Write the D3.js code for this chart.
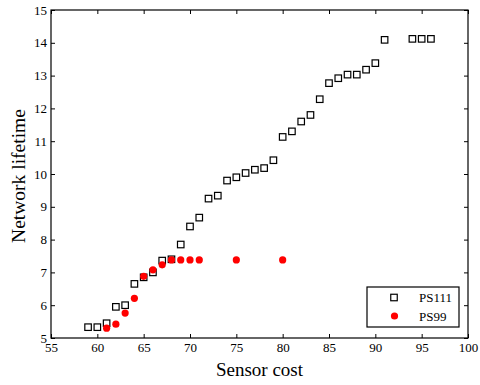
<!DOCTYPE html>
<html>
<head>
<meta charset="utf-8">
<script src="https://cdn.jsdelivr.net/npm/d3@7"></script>
<style>
  html, body { margin: 0; padding: 0; background: #fff; overflow: hidden; }
  svg { display: block; }
  text { font-family: "Liberation Serif", "Times New Roman", serif; }
</style>
</head>
<body>
<div id="chart"></div>
<script>
// PS111 series
const ps111Cost = [59, 60, 61, 62, 63, 64, 65, 66, 67, 68, 69, 70, 71, 72, 73, 74, 75, 76, 77, 78,
                   79, 80, 81, 82, 83, 84, 85, 86, 87, 88, 89, 90, 91, 94, 95, 96];
const ps111Life = [5.33, 5.33, 5.45, 5.95, 6.0, 6.65, 6.85, 7.0, 7.36, 7.4, 7.85, 8.4, 8.67, 9.25, 9.34, 9.8, 9.9, 10.03, 10.13, 10.18,
                   10.42, 11.13, 11.3, 11.6, 11.8, 12.28, 12.77, 12.92, 13.03, 13.03, 13.18, 13.38, 14.09, 14.12, 14.12, 14.12];
// PS99 series
const ps99Cost = [61, 62, 63, 64, 65, 66, 67, 68, 69, 70, 71, 75, 80];
const ps99Life = [5.3, 5.42, 5.76, 6.21, 6.88, 7.08, 7.23, 7.38, 7.38, 7.38, 7.38, 7.38, 7.38];

const xTicks = [55, 60, 65, 70, 75, 80, 85, 90, 95, 100];
const yTicks = [5, 6, 7, 8, 9, 10, 11, 12, 13, 14, 15];

const width = 480, height = 385;
const margin = { top: 10, right: 12, bottom: 47, left: 51 };
const innerWidth = width - margin.left - margin.right;
const innerHeight = height - margin.top - margin.bottom;

const svg = d3.select("#chart").append("svg")
    .attr("width", width)
    .attr("height", height);

const g = svg.append("g")
    .attr("transform", `translate(${margin.left}, ${margin.top})`);

const x = d3.scaleLinear().domain([55, 100]).range([0, innerWidth]);
const y = d3.scaleLinear().domain([5, 15]).range([innerHeight, 0]);

// axes with inward ticks
function styleAxis(sel) {
    sel.select(".domain").remove();
    sel.selectAll("line").attr("stroke", "#000").attr("stroke-width", 1);
    sel.selectAll("text").attr("fill", "#000").style("font-size", "13px");
}

g.append("g")
    .attr("transform", `translate(0, ${innerHeight})`)
    .call(d3.axisBottom(x).tickValues(xTicks).tickSizeInner(-4).tickSizeOuter(0).tickPadding(5))
    .call(styleAxis);

g.append("g")
    .call(d3.axisLeft(y).tickValues(yTicks).tickSizeInner(-4).tickSizeOuter(0).tickPadding(4))
    .call(styleAxis);

// mirrored ticks on top and right, no labels
const topAxis = g.append("g")
    .call(d3.axisTop(x).tickValues(xTicks).tickSizeInner(-4).tickSizeOuter(0))
    .call(styleAxis);
topAxis.selectAll("text").remove();

const rightAxis = g.append("g")
    .attr("transform", `translate(${innerWidth}, 0)`)
    .call(d3.axisRight(y).tickValues(yTicks).tickSizeInner(-4).tickSizeOuter(0))
    .call(styleAxis);
rightAxis.selectAll("text").remove();

// frame
g.append("rect")
    .attr("width", innerWidth)
    .attr("height", innerHeight)
    .attr("fill", "none")
    .attr("stroke", "#000")
    .attr("stroke-width", 1.2);

// axis labels
svg.append("text")
    .attr("x", margin.left + innerWidth / 2)
    .attr("y", 376)
    .attr("text-anchor", "middle")
    .style("font-size", "19px")
    .text("Sensor cost");

svg.append("text")
    .attr("transform", `translate(25, ${margin.top + innerHeight / 2 + 2}) rotate(-90)`)
    .attr("text-anchor", "middle")
    .style("font-size", "19.5px")
    .text("Network lifetime");

// PS111 squares
const sq = 6.5;
g.selectAll(".ps111")
    .data(ps111Cost.map((c, i) => [c, ps111Life[i]]))
    .enter().append("rect")
    .attr("class", "ps111")
    .attr("x", d => x(d[0]) - sq / 2)
    .attr("y", d => y(d[1]) - sq / 2)
    .attr("width", sq)
    .attr("height", sq)
    .attr("fill", "none")
    .attr("stroke", "#000")
    .attr("stroke-width", 1.2);

// PS99 dots
g.selectAll(".ps99")
    .data(ps99Cost.map((c, i) => [c, ps99Life[i]]))
    .enter().append("circle")
    .attr("class", "ps99")
    .attr("cx", d => x(d[0]))
    .attr("cy", d => y(d[1]))
    .attr("r", 3.6)
    .attr("fill", "#ff0000");

// legend
const legend = svg.append("g").attr("transform", "translate(367, 287)");
legend.append("rect")
    .attr("width", 92)
    .attr("height", 40)
    .attr("fill", "#fff")
    .attr("stroke", "#000")
    .attr("stroke-width", 1.2);
legend.append("rect")
    .attr("x", 27 - sq / 2).attr("y", 10.5 - sq / 2)
    .attr("width", sq).attr("height", sq)
    .attr("fill", "none").attr("stroke", "#000").attr("stroke-width", 1.2);
legend.append("circle")
    .attr("cx", 27.5).attr("cy", 29).attr("r", 3.6).attr("fill", "#ff0000");
legend.append("text").attr("x", 52).attr("y", 15).style("font-size", "13px").text("PS111");
legend.append("text").attr("x", 52).attr("y", 34).style("font-size", "13px").text("PS99");
</script>
</body>
</html>
